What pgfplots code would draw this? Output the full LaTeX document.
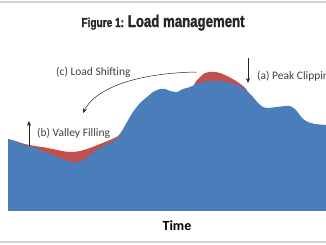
\documentclass[border=0pt]{standalone}
\usepackage{pgfplots}
\pgfplotsset{compat=1.18}
\usepackage{fontspec}
\setmainfont{Carlito}
\newfontfamily\titlefont[FakeStretch=0.78,BoldFeatures={FakeBold=1.6}]{Liberation Sans}
\usetikzlibrary{arrows.meta}
\definecolor{loadblue}{HTML}{4A7EBB}
\definecolor{loadred}{HTML}{C0504D}
\definecolor{txt}{HTML}{404040}
\begin{document}
\begin{tikzpicture}
\useasboundingbox (0,0) rectangle (326bp,245bp);
\clip (0,0) rectangle (326bp,245bp);
\begin{axis}[at={(0,0)}, anchor=south west, scale only axis,
  width=326bp, height=245bp, xmin=0, xmax=326, ymin=-34, ymax=211,
  hide axis, clip=false]
% red: valley filling
\addplot[draw=none, fill=loadred, smooth, tension=0.4] coordinates {
(8,72) (15,70) (25,67) (35,65) (45,63.5) (55,61.5) (65,59.5) (72,59) (80,60) (90,63) (100,67) (110,71) (118,75) (122,80)} \closedcycle;
% red: peak clipping
\addplot[draw=none, fill=loadred, smooth, tension=0.4] coordinates {
(190,124) (193,125) (197,131) (200,134) (205,138) (210,139) (215,139) (220,138) (225,136) (230,133.5) (237,129.5) (243,125) (246,122) (248,119)} \closedcycle;
% blue load
\addplot[draw=none, fill=loadblue, smooth, tension=0.3] coordinates {
(8,72) (15,70) (25,66) (35,63) (45,59) (55,55) (65,51) (72,49) (78,49) (84,51) (90,56) (100,63) (110,68) (118,73) (122,80) (127,89) (133,99) (140,108) (147,114) (153,119) (160,122) (165,122) (170,120) (177,119) (183,122) (190,124) (197,127) (203,129) (210,130) (220,130) (230,128) (237,126) (243,123) (248,119) (253,114) (258,108) (263,104) (268,103) (277,104) (285,105) (290,105) (295,102) (299,97) (303,92) (308,89) (315,87) (326,86)} \closedcycle;
% frame lines
\draw[black!18, line width=1.2pt] (axis cs:0,209) -- (axis cs:326,209);
\draw[black!18, line width=1.2pt] (axis cs:0,-31) -- (axis cs:326,-31);
% arrows
\draw[black!85, line width=0.5pt, -{Stealth[length=5pt,width=4pt]}] (axis cs:197,139) .. controls (axis cs:135,138) and (axis cs:95,122) .. (axis cs:83,98);
\draw[black!85, line width=0.6pt, -{Stealth[length=5pt,width=4pt]}] (axis cs:248,153) -- (axis cs:248,128);
\draw[black!85, line width=0.6pt, -{Stealth[length=5pt,width=4pt]}] (axis cs:29,65) -- (axis cs:29,90);
% labels
\node[anchor=west, text=txt, font=\fontsize{11.5}{13}\selectfont, inner sep=0pt] at (axis cs:56,139) {(c) Load Shifting};
\node[anchor=west, text=txt, font=\fontsize{11.5}{13}\selectfont, inner sep=0pt] at (axis cs:257,135) {(a) Peak Clipping};
\node[anchor=west, text=txt, font=\fontsize{11.5}{13}\selectfont, inner sep=0pt] at (axis cs:37,78) {(b) Valley Filling};
\node[text=black, font=\fontsize{14}{16}\selectfont\bfseries, inner sep=0pt] at (axis cs:177,-15) {Time};
\node[anchor=base, text=black!85, inner sep=0pt] at (axis cs:163,184) {\titlefont\bfseries{\fontsize{13}{15}\selectfont Figure 1: }{\fontsize{17}{19}\selectfont Load management}};
\end{axis}
\end{tikzpicture}
\end{document}
